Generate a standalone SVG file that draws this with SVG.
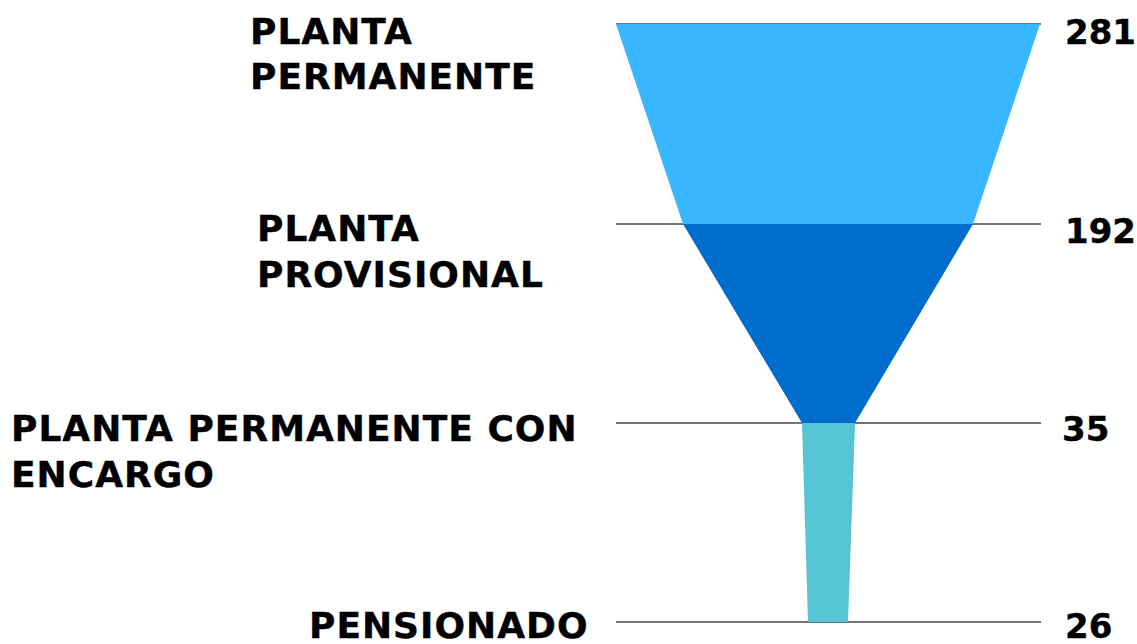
<svg xmlns="http://www.w3.org/2000/svg" width="1137" height="644" viewBox="0 0 1137 644">
<style>
.grid{stroke:#444;stroke-width:1.5}
.lbl{font-family:"DejaVu Sans",Verdana,sans-serif;font-weight:bold;font-size:36px;letter-spacing:1px;fill:#000;stroke:#000;stroke-width:0.4}
.num{font-family:"DejaVu Sans",Verdana,sans-serif;font-weight:bold;font-size:34px;fill:#000;stroke:#000;stroke-width:0.4}
</style>
<rect width="1137" height="644" fill="#fff"/>
<g id="connectors">
<line class="grid" x1="616" y1="24" x2="1041" y2="24"/>
<line class="grid" x1="616" y1="224" x2="1041" y2="224"/>
<line class="grid" x1="616" y1="423" x2="1041" y2="423"/>
<line class="grid" x1="616" y1="622" x2="1041" y2="622"/>
</g>
<g id="stage1">
<polygon points="616,24 1040,24 973,224 683,224" fill="#38B6FF"/>
<text class="lbl" x="250" y="44">PLANTA</text>
<text class="lbl" x="250" y="89">PERMANENTE</text>
<text class="num" x="1065" y="44">281</text>
</g>
<g id="stage2">
<polygon points="683,224 973,224 855,423 802,423" fill="#006CCB"/>
<text class="lbl" x="257" y="241">PLANTA</text>
<text class="lbl" x="257" y="287">PROVISIONAL</text>
<text class="num" x="1065" y="243">192</text>
</g>
<g id="stage3">
<polygon points="802,423 855,423 848,622 808,622" fill="#55C4D4"/>
<text class="lbl" x="11" y="441">PLANTA PERMANENTE CON</text>
<text class="lbl" x="11" y="487">ENCARGO</text>
<text class="num" x="1062" y="441">35</text>
</g>
<g id="stage4">
<text class="lbl" x="309" y="638">PENSIONADO</text>
<text class="num" x="1065" y="638">26</text>
</g>
</svg>
